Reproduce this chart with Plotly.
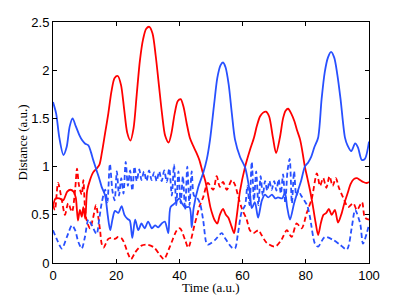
import plotly.graph_objects as go

# Red solid
t_red = [0, 0.8, 2, 3.2, 4.5, 5.5, 6.5, 7.2, 7.9, 8.5, 9.1, 9.6, 10.2, 10.8, 11.7, 12.7, 13.8, 14.7,
         15.5, 16.5, 17.5, 18.5, 19.5, 20.5, 21.5, 22.5, 23.5, 24.5, 25.5, 26.5, 27.5, 28.5, 29.5,
         30.5, 31.5, 32.5, 33.5, 34.5, 35.5, 36.6, 37.5, 38.5, 39.5, 40.4, 41.3, 42.3, 43.3, 44.3,
         45.3, 46.3, 47.3, 48.2, 49, 49.8, 50.5, 51.2, 52, 52.8, 53.8, 54.7, 55.5, 56.5, 57.3, 58,
         59.2, 60.8, 62.3, 63.6, 64.5, 65.5, 66.5, 67.4, 68.4, 69.6, 70.6, 71.8, 72.8, 73.6, 74.4,
         75.4, 76.4, 77.2, 78.2, 79, 79.7, 80.5, 81.3, 82.2, 83.1, 83.9, 84.8, 85.6, 86.5, 87.3,
         88.2, 89.2, 90.2, 91.2, 92.2, 93.2, 94.2, 95.2, 96.2, 97.2, 98.2, 99.2, 100]
d_red = [0.58, 0.67, 0.67, 0.65, 0.74, 0.76, 0.74, 0.68, 0.44, 0.55, 0.48, 0.58, 0.46, 0.75, 0.86,
         0.94, 0.98, 1.02, 1.15, 1.35, 1.55, 1.78, 1.92, 1.94, 1.85, 1.6, 1.35, 1.27, 1.4, 1.75, 2.1,
         2.32, 2.43, 2.45, 2.38, 2.15, 1.85, 1.55, 1.32, 1.25, 1.35, 1.55, 1.68, 1.70, 1.62, 1.45,
         1.3, 1.22, 1.15, 1.07, 0.95, 0.85, 0.72, 0.58, 0.5, 0.44, 0.41, 0.5, 0.56, 0.5, 0.47, 0.38,
         0.31, 0.45, 0.75, 1.0, 1.17, 1.3, 1.42, 1.52, 1.56, 1.57, 1.52, 1.3, 1.14, 1.3, 1.5, 1.58,
         1.6, 1.55, 1.47, 1.38, 1.28, 1.14, 1.0, 0.88, 0.76, 0.6, 0.42, 0.29, 0.42, 0.5, 0.52, 0.56,
         0.5, 0.55, 0.42, 0.5, 0.62, 0.72, 0.82, 0.87, 0.88, 0.86, 0.84, 0.83, 0.84]

# Blue solid
t_blue = [0, 1, 2, 3.3, 4.3, 5.3, 6.2, 7.2, 8.3, 9.3, 10.1, 11.2, 12, 12.7, 13.8, 14.6, 15.4, 16.5,
          17.3, 18.1, 18.8, 19.6, 20.7, 21.7, 22.6, 23.5, 24.3, 25.1, 26, 27, 28, 29, 30.1, 31.3,
          32.3, 33.3, 34.4, 35.4, 36.5, 37.2, 38.6, 40, 40.8, 41.8, 43.2, 43.9, 44.5, 46, 47.5, 48.7,
          49.7, 51, 52, 53, 53.8, 54.6, 55.6, 56.6, 57.6, 59.2, 60.8, 62.3, 62.9, 63.9, 64.9, 66.1,
          67.1, 68.1, 69.3, 70.3, 71.2, 72.5, 73.4, 74.1, 75, 76.3, 77.5, 78.5, 79.7, 80.7, 81.7,
          82.7, 83.9, 85, 86, 87, 88, 89, 90, 91, 92.4, 93.2, 94.4, 95.6, 96.5, 97.7, 98.7, 100]
d_blue = [1.67, 1.55, 1.3, 1.12, 1.2, 1.42, 1.5, 1.42, 1.33, 1.27, 1.24, 1.22, 1.15, 1.07, 0.96,
          0.88, 0.79, 0.7, 0.5, 0.34, 0.45, 0.54, 0.52, 0.59, 0.5, 0.46, 0.44, 0.26, 0.45, 0.34,
          0.41, 0.36, 0.43, 0.36, 0.39, 0.37, 0.41, 0.43, 0.31, 0.58, 0.62, 0.67, 0.62, 0.58, 0.58,
          0.37, 0.57, 0.79, 0.93, 1.08, 1.28, 1.65, 1.92, 2.05, 2.08, 2.03, 1.85, 1.55, 1.28, 1.1,
          0.99, 0.73, 0.57, 0.63, 0.47, 0.65, 0.71, 0.68, 0.71, 0.67, 0.68, 0.67, 0.73, 0.58, 0.45,
          0.62, 0.75, 0.85, 1.0, 1.04, 1.1, 1.2, 1.3, 1.7, 1.98, 2.13, 2.19, 2.13, 1.95, 1.7, 1.3,
          1.22, 1.16, 1.24, 1.2, 1.07, 1.08, 1.26]

# Red dashed
t_red_d = [0, 0.6, 1.6, 2.8, 3.8, 4.8, 6, 7, 7.6, 8.2, 9.1, 9.6, 10.1, 10.6, 11.7, 12.7, 13.6, 14.3,
           14.9, 15.4, 16, 17.5, 18.6, 19.6, 20.6, 21.6, 22.4, 23.7, 24.7, 26, 28, 30, 32, 33.9,
           35.1, 37, 39.2, 40.2, 41.8, 42.8, 44.9, 46.5, 47.5, 49, 50.7, 51.8, 52.8, 53.8, 55, 56.6,
           57.6, 58.7, 59.7, 61.3, 62.3, 63.4, 65, 66, 67.6, 70.3, 72.3, 74, 75.5, 77.1, 78.7, 80.3,
           81.9, 83.5, 84.5, 85.5, 86.5, 87.5, 88.5, 89.5, 90.5, 91.8, 93.4, 95, 96.2, 97.8, 98.7, 100]
d_red_d = [0.6, 0.55, 0.83, 0.65, 0.5, 0.62, 0.53, 0.76, 0.98, 0.81, 0.71, 0.86, 0.58, 0.45, 0.36,
           0.47, 0.6, 0.48, 0.34, 0.2, 0.16, 0.25, 0.26, 0.25, 0.27, 0.26, 0.22, 0.1, 0.04, 0.11,
           0.18, 0.19, 0.16, 0.08, 0.04, 0.17, 0.34, 0.36, 0.24, 0.16, 0.41, 0.6, 0.68, 0.83, 0.76,
           0.9, 0.79, 0.84, 0.76, 0.86, 0.81, 0.68, 0.57, 0.45, 0.34, 0.31, 0.34, 0.29, 0.21, 0.17,
           0.24, 0.34, 0.27, 0.41, 0.36, 0.52, 0.67, 0.93, 0.8, 0.88, 0.78, 0.9, 0.8, 0.88, 0.78,
           0.68, 0.58, 0.62, 0.55, 0.63, 0.47, 0.45]

# Blue dashed
t_blue_d = [0, 1.3, 2.8, 4.4, 6, 7, 8, 9.1, 10.1, 11.2, 12.3, 13.8, 14.6, 15.4, 16.5, 17.2, 18, 18.8,
            19.5, 20.2, 20.9, 21.6, 22.3, 23, 23.7, 24.4, 25.1, 25.8, 26.5, 27.3, 28, 28.8, 29.6,
            30.4, 31.2, 32, 32.8, 33.6, 34.4, 35.2, 36, 36.8, 37.6, 38.3, 39, 39.7, 40.4, 41.1, 41.8,
            42.5, 43.2, 43.9, 44.6, 45.5, 46.5, 47.5, 48.6, 49.1, 51.3, 53.4, 54.4, 56.6, 57.6, 58.5,
            59.7, 60.8, 61.5, 62.2, 62.9, 63.6, 64.3, 65, 65.7, 66.4, 67.1, 67.8, 68.5, 69.2, 70,
            70.7, 71.4, 72.1, 72.8, 73.5, 74.2, 74.9, 75.6, 76.3, 77, 77.7, 78.5, 79.5, 80.4, 81.3,
            82.9, 83.9, 86, 88.6, 90.8, 93, 94.6, 95.6, 97.2, 98.1, 99.3, 100]
d_blue_d = [0.34, 0.24, 0.15, 0.27, 0.39, 0.34, 0.22, 0.15, 0.27, 0.45, 0.39, 0.3, 0.45, 0.62, 0.76,
            0.63, 1.03, 0.75, 0.65, 0.95, 0.7, 0.88, 0.72, 1.05, 0.8, 0.96, 0.75, 1.0, 0.85, 0.97,
            0.86, 0.95, 0.85, 0.96, 0.86, 0.94, 0.85, 0.95, 0.85, 0.96, 0.84, 0.98, 0.7, 1.02, 0.6,
            0.95, 0.62, 0.9, 0.55, 1.0, 0.6, 0.95, 0.7, 0.68, 0.62, 0.45, 0.2, 0.19, 0.24, 0.31,
            0.26, 0.16, 0.15, 0.3, 0.53, 0.6, 0.8, 0.6, 1.05, 0.65, 0.95, 0.6, 0.9, 0.7, 0.85, 0.75,
            0.85, 0.76, 0.85, 0.75, 0.87, 0.72, 0.92, 0.62, 0.95, 1.08, 0.62, 0.95, 0.7, 0.75, 0.7,
            0.65, 0.6, 0.48, 0.2, 0.17, 0.27, 0.24, 0.19, 0.14, 0.38, 0.55, 0.41, 0.2, 0.31, 0.4]

x_ticks = [0, 20, 40, 60, 80, 100]
y_ticks = [0, 0.5, 1, 1.5, 2, 2.5]
y_tick_text = ["0", "0.5", "1", "1.5", "2", "2.5"]
x_title = "Time (a.u.)"
y_title = "Distance (a.u.)"

RED = "#ff0000"
BLUE = "#2850ff"
LW = 1.8

fig = go.Figure()
fig.add_trace(go.Scatter(x=t_red_d, y=d_red_d, mode="lines",
                         line=dict(color=RED, width=LW, dash="5px,3px", shape="spline", smoothing=0.8)))
fig.add_trace(go.Scatter(x=t_blue_d, y=d_blue_d, mode="lines",
                         line=dict(color=BLUE, width=LW, dash="5px,3px", shape="spline", smoothing=0.8)))
fig.add_trace(go.Scatter(x=t_red, y=d_red, mode="lines",
                         line=dict(color=RED, width=LW, shape="spline", smoothing=0.8)))
fig.add_trace(go.Scatter(x=t_blue, y=d_blue, mode="lines",
                         line=dict(color=BLUE, width=LW, shape="spline", smoothing=0.8)))

axis_common = dict(showline=True, linecolor="black", linewidth=1, mirror="ticks",
                   ticks="inside", ticklen=4, tickcolor="black", tickwidth=1,
                   showgrid=False, zeroline=False, automargin=False,
                   tickfont=dict(family="Liberation Sans, Arial", size=13, color="black"))

fig.update_xaxes(range=[0, 100], tickvals=x_ticks, ticktext=[str(v) for v in x_ticks],
                 ticklabelstandoff=0, **axis_common)
fig.update_yaxes(range=[0, 2.5], tickvals=y_ticks, ticktext=y_tick_text, **axis_common)

title_font = dict(family="Liberation Serif, Times New Roman", size=13, color="black")
fig.add_annotation(text=x_title, xref="paper", yref="paper", x=0.5, y=-24 / 241,
                   xanchor="center", yanchor="middle", showarrow=False, font=title_font)
fig.add_annotation(text=y_title, xref="paper", yref="paper", x=-31 / 316, y=0.5,
                   xanchor="center", yanchor="middle", textangle=-90, showarrow=False,
                   font=title_font)

# page body has an 8px margin, so the figure is 399x288 placed at (8, 8)
fig.update_layout(width=399, height=288, showlegend=False,
                  margin=dict(l=45, r=38, t=14, b=33),
                  paper_bgcolor="white", plot_bgcolor="white")

fig.write_html("out.html")
